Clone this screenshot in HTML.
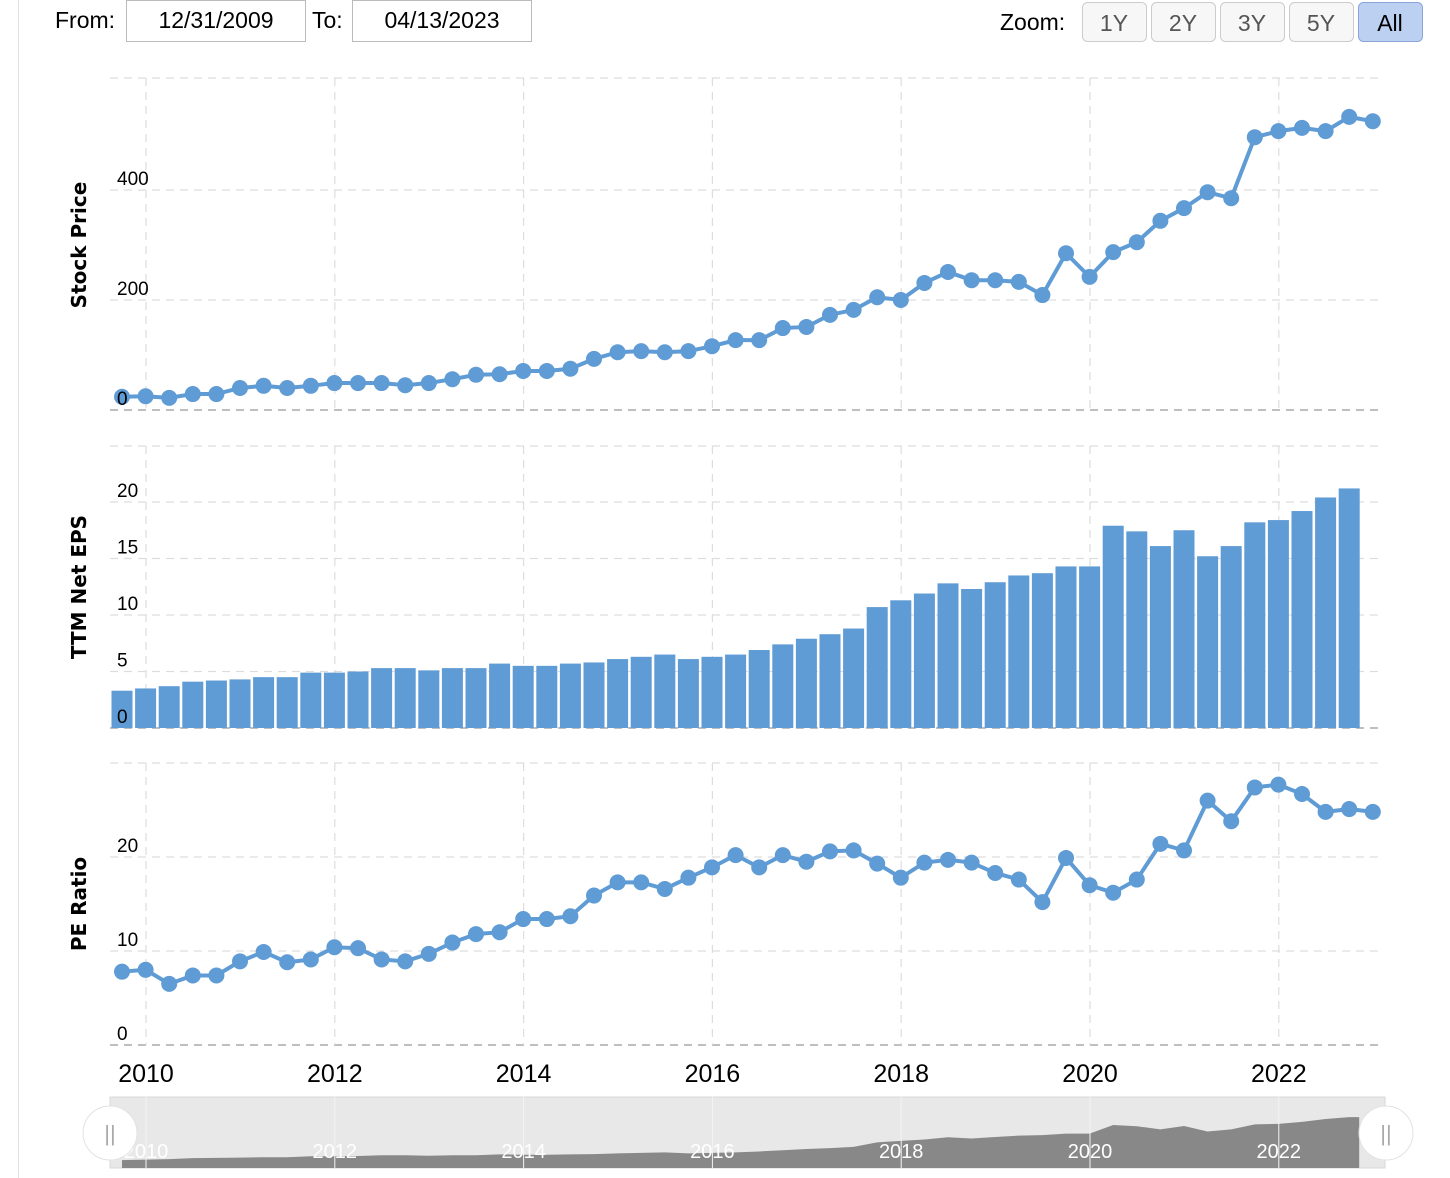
<!DOCTYPE html>
<html><head><meta charset="utf-8">
<style>
body{margin:0;background:#fff;width:1450px;height:1178px;overflow:hidden;font-family:"Liberation Sans",sans-serif;}
svg{position:absolute;left:0;top:0}
</style></head>
<body>
<svg id="chart" width="1450" height="1178" xmlns="http://www.w3.org/2000/svg">
<line x1="18.5" y1="0" x2="18.5" y2="1178" stroke="#e0e0e0"/>
<text x="55" y="28" font-size="23" fill="#000">From:</text>
<rect x="126.5" y="0.5" width="179" height="41" fill="#fff" stroke="#bbb"/>
<text x="216" y="28" font-size="23" text-anchor="middle">12/31/2009</text>
<text x="312" y="28" font-size="23">To:</text>
<rect x="352.5" y="0.5" width="179" height="41" fill="#fff" stroke="#bbb"/>
<text x="442" y="28" font-size="23" text-anchor="middle">04/13/2023</text>
<text x="1000" y="30" font-size="23">Zoom:</text>
<g id="zoombtns"></g>
<g id="grid"></g>
<g id="marks"></g>
<g id="labels"></g>
<g id="nav"></g>
</svg>
<script>
const years=[2010,2012,2014,2016,2018,2020,2022];
const priceTicks=[0,200,400];
const epsTicks=[0,5,10,15,20];
const peTicks=[0,10,20];
const zoomLabels=['1Y','2Y','3Y','5Y','All'];
const price=[24,25,22,29,29,40,44,40,44,49,49,49,45,49,56,64,65,71,71,75,93,105,107,105,107,116,127,127,149,151,173,182,205,200,231,251,236,236,233,209,285,242,287,305,344,367,396,385,496,507,513,507,533,525];
const eps=[3.3,3.5,3.7,4.1,4.2,4.3,4.5,4.5,4.9,4.9,5.0,5.3,5.3,5.1,5.3,5.3,5.7,5.5,5.5,5.7,5.8,6.1,6.3,6.5,6.1,6.3,6.5,6.9,7.4,7.9,8.3,8.8,10.7,11.3,11.9,12.8,12.3,12.9,13.5,13.7,14.3,14.3,17.9,17.4,16.1,17.5,15.2,16.1,18.2,18.4,19.2,20.4,21.2];
const pe=[7.8,8.0,6.5,7.4,7.4,8.9,9.9,8.8,9.1,10.4,10.3,9.1,8.9,9.7,10.9,11.8,12.0,13.4,13.4,13.7,15.9,17.3,17.3,16.6,17.8,18.9,20.2,18.9,20.2,19.5,20.6,20.7,19.3,17.8,19.4,19.7,19.4,18.3,17.6,15.2,19.9,17.0,16.2,17.6,21.4,20.7,26.0,23.8,27.4,27.7,26.7,24.8,25.1,24.8];

const NS='http://www.w3.org/2000/svg';
function mk(tag,attrs,parent,txt){const e=document.createElementNS(NS,tag);for(const k in attrs)e.setAttribute(k,attrs[k]);if(txt!==undefined)e.textContent=txt;parent.appendChild(e);return e;}
const xYear=y=>146+(y-2010)*94.4;
const xIdx=i=>122+i*23.6;
const yPrice=v=>410-v*0.55;
const yEps=v=>728-v*11.3;
const yPe=v=>1045-v*9.4;
const grid=document.getElementById('grid'),marks=document.getElementById('marks'),labels=document.getElementById('labels'),nav=document.getElementById('nav'),zb=document.getElementById('zoombtns');

zoomLabels.forEach((l,i)=>{
  const x=1082+i*69;const sel=l==='All';
  const r=mk('rect',{x:x+.5,y:2.5,width:64,height:39,rx:5,fill:sel?'#bcd0f2':'#f7f7f7',stroke:sel?'#8aa6d8':'#ccc'},zb);
  
  
  const t=mk('text',{x:x+32,y:31,'font-size':23,'text-anchor':'middle',fill:sel?'#000':'#555'},zb,l);
  
  
});

const panels=[
 {top:78,bot:410,ticks:priceTicks,fy:yPrice,title:'Stock Price',tx:86,ty:245,name:'price'},
 {top:446,bot:728,ticks:epsTicks,fy:yEps,title:'TTM Net EPS',tx:86,ty:587,name:'eps'},
 {top:763,bot:1045,ticks:peTicks,fy:yPe,title:'PE Ratio',tx:86,ty:904,name:'pe'}];
panels.forEach(p=>{
  const hs=[p.top,...p.ticks.map(p.fy)];
  hs.forEach((y,k)=>{
    const l=mk('line',{x1:110,x2:1380,y1:y,y2:y,stroke:k===1?'#999':'#ddd','stroke-dasharray':'8,6','stroke-width':1.2},grid);
    
    
  });
  years.forEach(yr=>{
    const l=mk('line',{x1:xYear(yr),x2:xYear(yr),y1:p.top,y2:p.bot,stroke:'#ddd','stroke-dasharray':'8,6','stroke-width':1.2},grid);
    
    
  });
  p.ticks.forEach(v=>{
    const t=mk('text',{x:117,y:p.fy(v)-5,'font-size':19,fill:'#000'},labels,v);
    
    
  });
  const t=mk('text',{x:p.tx,y:p.ty,'font-size':20,'font-weight':'bold','font-family':'DejaVu Sans, sans-serif','text-anchor':'middle',transform:`rotate(-90 ${p.tx} ${p.ty})`},labels,p.title);
  
  
});
years.forEach(yr=>{
  const t=mk('text',{x:xYear(yr),y:1082,'font-size':25,'text-anchor':'middle'},labels,yr);
  
  
});

eps.forEach((v,i)=>{
  const r=mk('rect',{x:xIdx(i)-10.5,y:yEps(v),width:21,height:yEps(0)-yEps(v),fill:'#5f9bd4'},marks);
  
  
});
function lineSeries(arr,fy,name){
  const pl=mk('polyline',{points:arr.map((v,i)=>xIdx(i)+','+fy(v)).join(' '),fill:'none',stroke:'#5f9bd4','stroke-width':4},marks);
  
  
  arr.forEach((v,i)=>{
    const c=mk('circle',{cx:xIdx(i),cy:fy(v),r:8,fill:'#5f9bd4'},marks);
    
    
  });
}
lineSeries(price,yPrice,'price');
lineSeries(pe,yPe,'pe');

const nb=mk('rect',{x:110,y:1097,width:1275,height:71,fill:'#e8e8e8',stroke:'#d8d8d8'},nav);


const yNav=v=>1168-v*2.4;
let d='M'+xIdx(0)+',1168 '+eps.map((v,i)=>'L'+xIdx(i)+','+yNav(v)).join(' ')+' L'+(xIdx(eps.length-1)+10)+','+yNav(eps[eps.length-1])+' L'+(xIdx(eps.length-1)+10)+',1168 Z';
const na=mk('path',{d:d,fill:'#888'},nav);


years.forEach(yr=>{
  const l=mk('line',{x1:xYear(yr),x2:xYear(yr),y1:1097,y2:1168,stroke:'#f4f4f4','stroke-width':1},nav);
  
  
  const t=mk('text',{x:xYear(yr),y:1158,'font-size':20,'text-anchor':'middle',fill:'#fff'},nav,yr);
  
  
});
[110,1386].forEach((cx,k)=>{
  const c=mk('circle',{cx:cx,cy:1133,r:27,fill:'#fff',stroke:'#e2e2e2'},nav);
  
  
  const t=mk('text',{x:cx,y:1141,'font-size':22,'text-anchor':'middle',fill:'#aaa'},nav,'||');
  
  
});
</script>
</body></html>
